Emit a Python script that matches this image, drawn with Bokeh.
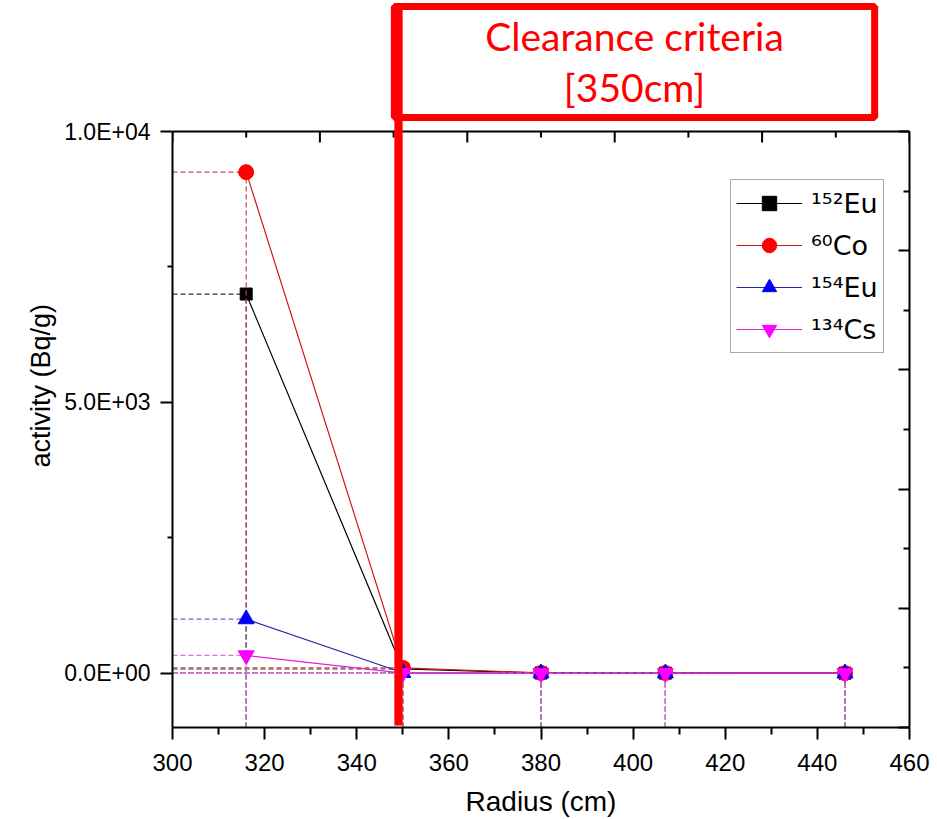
import math
from bokeh.plotting import figure
from bokeh.models import (Range1d, LinearAxis, FixedTicker, Label, Legend,
                          LegendItem, Span, Title)
from bokeh.embed import file_html
from bokeh.resources import INLINE

# ---------------- data ----------------
radius = [316, 350, 380, 407, 446]
eu152 = [7000, 80, 5, 3, 2]
co60 = [9250, 100, 8, 5, 3]
eu154 = [1000, 10, 2, 1, 1]
cs134 = [330, 5, 1, 1, 0.5]
series_labels = ["¹⁵²Eu", "⁶⁰Co", "¹⁵⁴Eu", "¹³⁴Cs"]

x_ticks = [300, 320, 340, 360, 380, 400, 420, 440, 460]
x_minor = [310, 330, 350, 370, 390, 410, 430, 450]
y_ticks = [0, 5000, 10000]
y_tick_labels = ["0.0E+00", "5.0E+03", "1.0E+04"]
y_minor = [2500, 7500]
frame_ticks = [0, 2, 4, 6, 8, 10]
frame_minor = [1, 3, 5, 7, 9]

x_start, x_end = 300, 460
y_start, y_top = -1000, 10000

annot_line1 = "Clearance criteria"
annot_line2 = "[350cm]"

# ---------------- layout ----------------
W, H = 937, 819
FRAME_L, FRAME_R, FRAME_T, FRAME_B = 172, 909, 131, 727   # axes box on the page
plot_h = FRAME_B - FRAME_T
# the drawing area reaches the top of the page so the red call-out can be drawn
y_view_end = y_top + (y_top - y_start) * FRAME_T / plot_h
r_view_end = 10 + 10 * FRAME_T / plot_h

marker_kinds = ["square", "circle", "triangle", "inverted_triangle"]
marker_sizes = [12, 15, 16, 16]
marker_colors = ["#000000", "#ff0000", "#0000ff", "#ff00ff"]
line_colors = ["#000000", "#d01515", "#2626a6", "#e020e0"]
drop_colors = ["#333333", "#d04545", "#6a6ab8", "#d878d8"]

FONT = "Liberation Sans"

p = figure(width=W, height=H, title=None,
           x_range=Range1d(x_start, x_end), y_range=Range1d(y_start, y_view_end),
           output_backend="svg", toolbar_location=None,
           min_border_left=FRAME_L, min_border_right=W - FRAME_R,
           min_border_top=0, min_border_bottom=H - FRAME_B)
p.outline_line_color = None
p.xgrid.visible = False
p.ygrid.visible = False
p.background_fill_color = "white"
p.border_fill_color = "white"

p.extra_x_ranges = {"t": Range1d(0, 10)}
p.extra_y_ranges = {"r": Range1d(0, r_view_end)}

all_vals = [eu152, co60, eu154, cs134]
items = []
for i, vals in enumerate(all_vals):
    n = len(vals)
    p.segment(x0=[x_start] * n, y0=vals, x1=radius, y1=vals,
              line_color=drop_colors[i], line_width=1.2, line_dash="5 3")
    p.segment(x0=radius, y0=[y_start] * n, x1=radius, y1=vals,
              line_color=drop_colors[i], line_width=1.2, line_dash="5 3")
    lr = p.line(radius, vals, line_color=line_colors[i], line_width=1.2)
    sr = p.scatter(radius, vals, marker=marker_kinds[i], size=marker_sizes[i],
                   fill_color=marker_colors[i], line_color=marker_colors[i])
    items.append(LegendItem(label=series_labels[i], renderers=[lr, sr]))

# ---------------- axes ----------------
xa = p.xaxis[0]
xa.ticker = FixedTicker(ticks=x_ticks, minor_ticks=x_minor)
ya = p.yaxis[0]
ya.ticker = FixedTicker(ticks=y_ticks, minor_ticks=y_minor)
ya.major_label_overrides = dict(zip(y_ticks, y_tick_labels))
ya.bounds = (y_start, y_top)

for ax in (xa, ya):
    ax.axis_line_width = 2
    ax.axis_line_color = "black"
    ax.major_tick_line_width = 2
    ax.minor_tick_line_width = 2
    ax.major_tick_in = 0
    ax.minor_tick_in = 0
    ax.major_tick_out = 12
    ax.major_label_text_font = FONT
    ax.major_label_text_color = "black"
    ax.axis_label_text_font = FONT
    ax.axis_label_text_font_style = "normal"
    ax.axis_label_text_color = "black"

xa.minor_tick_out = 7
xa.major_label_text_font_size = "24px"
xa.major_label_standoff = 14
xa.axis_label = "Radius (cm)"
xa.axis_label_text_font_size = "28px"
xa.axis_label_standoff = 12

ya.minor_tick_out = 5
ya.major_label_text_font_size = "23px"
ya.major_label_standoff = 10

p.add_layout(Title(text="activity (Bq/g)", align="left", offset=FRAME_B - 467,
                   text_font=FONT, text_font_size="27px",
                   text_font_style="normal", text_color="black", standoff=11),
             "left")

right_axis = LinearAxis(y_range_name="r", bounds=(0, 10),
                        ticker=FixedTicker(ticks=frame_ticks, minor_ticks=frame_minor),
                        major_label_overrides={t: "" for t in frame_ticks},
                        axis_line_width=2, major_tick_line_width=2,
                        minor_tick_line_width=2,
                        major_tick_in=11, major_tick_out=0,
                        minor_tick_in=6, minor_tick_out=0)
p.add_layout(right_axis, "right")

# top border of the axes box with its inward ticks
p.add_layout(Span(location=y_top, dimension="width", line_color="black",
                  line_width=2))
p.ray(x=frame_ticks, y=[y_top] * len(frame_ticks), length=11,
      angle=-math.pi / 2, length_units="screen", x_range_name="t",
      line_color="black", line_width=2)
p.ray(x=frame_minor, y=[y_top] * len(frame_minor), length=6,
      angle=-math.pi / 2, length_units="screen", x_range_name="t",
      line_color="black", line_width=2)

# ---------------- legend ----------------
legend = Legend(items=items, location=(730 - FRAME_L, FRAME_B - 353),
                label_text_font="DejaVu Sans", label_text_font_size="27px",
                label_text_color="black",
                glyph_width=66, glyph_height=36, label_height=36,
                spacing=6, padding=5, margin=0, label_standoff=9,
                border_line_color="#555555", border_line_width=1,
                background_fill_color="white", background_fill_alpha=1)
p.add_layout(legend)

# ---------------- red call-out ----------------
box = Label(x=634 - FRAME_L, y=FRAME_B - 61.5, x_units="screen", y_units="screen",
            text=" ", text_font_size="1px", text_align="center",
            text_baseline="middle",
            border_line_color="#ff0000", border_line_width=7,
            background_fill_color="white",
            padding=dict(left=240, right=240, top=55, bottom=55))
bar = Label(x=398 - FRAME_L, y=FRAME_B - 366.5, x_units="screen", y_units="screen",
            text=" ", text_font_size="1px", text_align="center",
            text_baseline="middle", background_fill_color="#ff0000",
            padding=dict(left=4, right=4, top=358, bottom=358))
t1 = Label(x=634 - FRAME_L, y=FRAME_B - 35.5, x_units="screen", y_units="screen",
           text=annot_line1, text_font="Lato", text_font_size="39px",
           text_color="#ff0000", text_align="center", text_baseline="middle")
t2 = Label(x=634 - FRAME_L, y=FRAME_B - 86, x_units="screen", y_units="screen",
           text=annot_line2, text_font="Lato", text_font_size="39px",
           text_color="#ff0000", text_align="center", text_baseline="middle")
for a in (box, t1, t2, bar):
    p.add_layout(a)

open("out.html", "w").write(file_html(p, INLINE))
